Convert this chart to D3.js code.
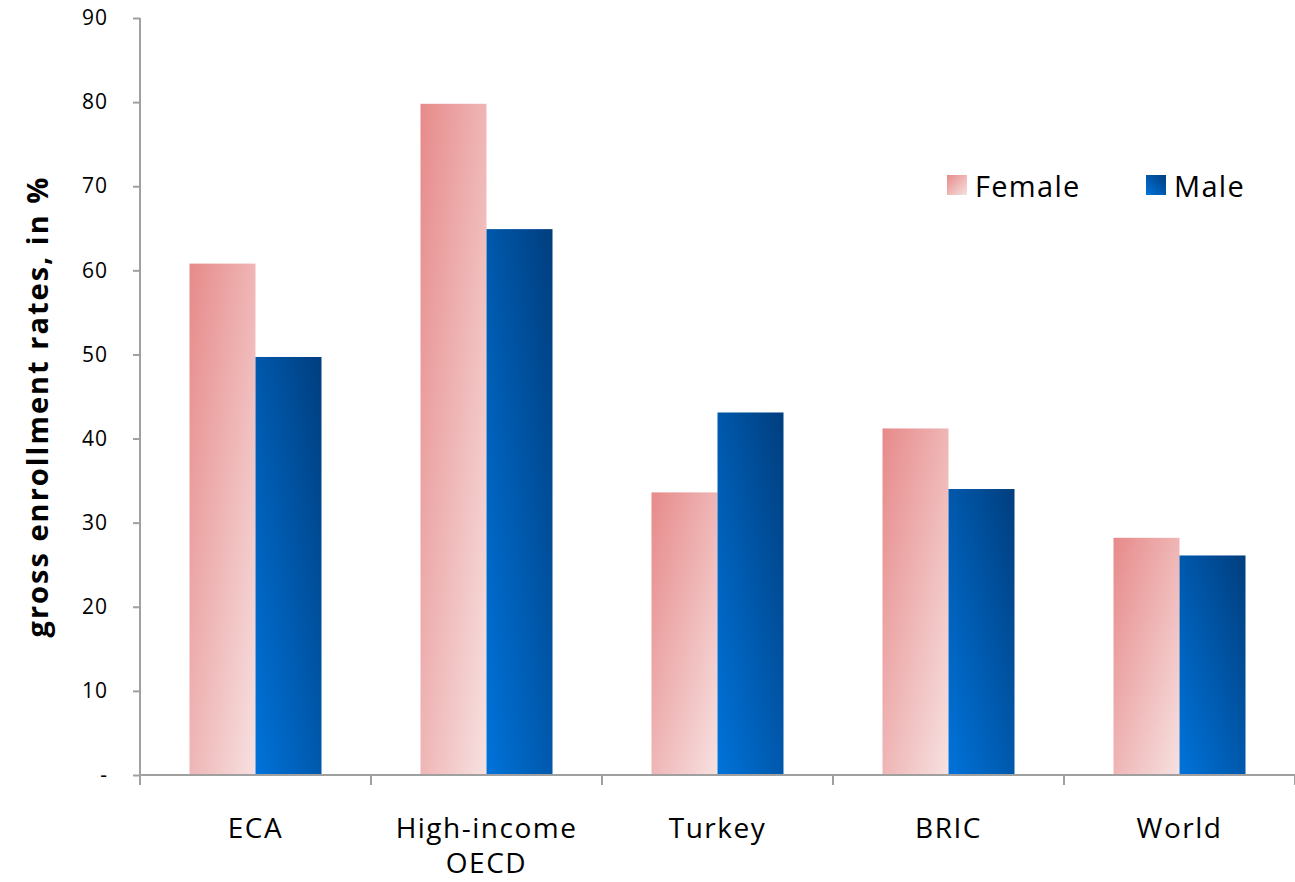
<!DOCTYPE html>
<html>
<head>
  <meta charset="utf-8">
  <title>Gross enrollment rates</title>
  <script src="https://cdn.jsdelivr.net/npm/d3@7"></script>
  <style>
    body { margin: 0; background: #fff; }
    text { font-family: "Open Sans", "Lato", sans-serif; fill: #000; }
  </style>
</head>
<body>
<div id="container"></div>
<script>
  var categories = ["ECA", "High-income OECD", "Turkey", "BRIC", "World"];
  var catLines = [["ECA"], ["High-income", "OECD"], ["Turkey"], ["BRIC"], ["World"]];
  var female = [60.8, 79.8, 33.6, 41.2, 28.2];
  var male = [49.7, 64.9, 43.1, 34.0, 26.1];
  var seriesNames = ["Female", "Male"];
  var yTicks = [0, 10, 20, 30, 40, 50, 60, 70, 80, 90];

  drawChart();

  function drawChart(){
    var width = 1295, height = 882;
    var svg = d3.select("#container").append("svg")
      .attr("width", width).attr("height", height);

    var defs = svg.append("defs");
    var gf = defs.append("linearGradient").attr("id", "gradFemale")
      .attr("x1", 0).attr("y1", 0).attr("x2", 1).attr("y2", 1);
    gf.append("stop").attr("offset", "0%").attr("stop-color", "#e78a8a");
    gf.append("stop").attr("offset", "100%").attr("stop-color", "#f7e1e1");
    var gm = defs.append("linearGradient").attr("id", "gradMale")
      .attr("x1", 0).attr("y1", 1).attr("x2", 1).attr("y2", 0);
    gm.append("stop").attr("offset", "0%").attr("stop-color", "#0073da");
    gm.append("stop").attr("offset", "100%").attr("stop-color", "#003e7e");

    var mLeft = 140, mRight = 1295, mTop = 18, mBottom = 775;

    var x0 = d3.scaleBand().domain(categories).range([mLeft, mRight]).paddingInner(0).paddingOuter(0);
    var x1 = d3.scaleBand().domain(seriesNames).range([0, x0.bandwidth()]).paddingOuter(0.75);
    var y = d3.scaleLinear().domain([0, 90]).range([mBottom, mTop]);

    // bars
    var data = categories.map(function(c, i){ return {cat: c, vals: [female[i], male[i]]}; });
    var groups = svg.append("g").selectAll("g").data(data).join("g")
      .attr("transform", function(d){ return "translate(" + x0(d.cat) + ",0)"; });
    groups.selectAll("rect").data(function(d){
        return d.vals.map(function(v, j){ return {name: seriesNames[j], v: v}; });
      }).join("rect")
      .attr("x", function(d){ return x1(d.name); })
      .attr("width", x1.bandwidth())
      .attr("y", function(d){ return y(d.v); })
      .attr("height", function(d){ return y(0) - y(d.v); })
      .attr("fill", function(d){ return d.name == "Female" ? "url(#gradFemale)" : "url(#gradMale)"; });

    // y axis
    var yAxis = d3.axisLeft(y).tickValues(yTicks).tickSize(7).tickPadding(25)
      .tickFormat(function(d){ return d == 0 ? "-" : d; });
    var yg = svg.append("g").attr("transform", "translate(" + mLeft + ",0)").call(yAxis);
    yg.select(".domain").attr("stroke", "#a0a0a0").attr("stroke-width", 2).attr("d", "M0," + mTop + "V" + mBottom);
    yg.selectAll(".tick line").attr("stroke", "#a0a0a0").attr("stroke-width", 2);
    yg.selectAll(".tick text").style("font-size", "21px").style("font-family", "'Open Sans', sans-serif")
      .style("letter-spacing", "1px").attr("fill", "#000");

    // x axis
    var xg = svg.append("g").attr("transform", "translate(0," + mBottom + ")");
    xg.append("line").attr("x1", mLeft).attr("x2", mRight).attr("y1", 0).attr("y2", 0)
      .attr("stroke", "#a0a0a0").attr("stroke-width", 2);
    var bounds = categories.map(function(c){ return x0(c); }).concat([mRight]);
    xg.selectAll(".xt").data(bounds).join("line").attr("class", "xt")
      .attr("x1", function(d){ return d; }).attr("x2", function(d){ return d; })
      .attr("y1", 0).attr("y2", 10).attr("stroke", "#a0a0a0").attr("stroke-width", 2);
    var labels = xg.selectAll(".xl").data(categories).join("text").attr("class", "xl")
      .attr("text-anchor", "middle").style("font-size", "28px").style("letter-spacing", "1.5px")
      .attr("x", function(d){ return x0(d) + x0.bandwidth() / 2; });
    labels.selectAll("tspan").data(function(d, i){ return catLines[i]; }).join("tspan")
      .attr("x", function(){ return this.parentNode.getAttribute("x"); })
      .attr("y", function(d, i){ return 63 + i * 35; })
      .text(function(d){ return d; });

    // y title
    svg.append("text")
      .attr("transform", "translate(48," + ((mTop + mBottom) / 2 + 10) + ") rotate(-90)")
      .attr("text-anchor", "middle")
      .style("font-size", "29px").style("font-weight", "bold").style("letter-spacing", "2px")
      .text("gross enrollment rates, in %");

    // legend
    var legendX = [947, 1146];
    var legend = svg.append("g");
    seriesNames.forEach(function(n, i){
      legend.append("rect").attr("x", legendX[i]).attr("y", 175).attr("width", 20).attr("height", 20)
        .attr("fill", n == "Female" ? "url(#gradFemale)" : "url(#gradMale)");
      legend.append("text").attr("x", legendX[i] + 28).attr("y", 197)
        .style("font-size", "29px").style("letter-spacing", "1.3px").text(n);
    });
  }
</script>
</body>
</html>
